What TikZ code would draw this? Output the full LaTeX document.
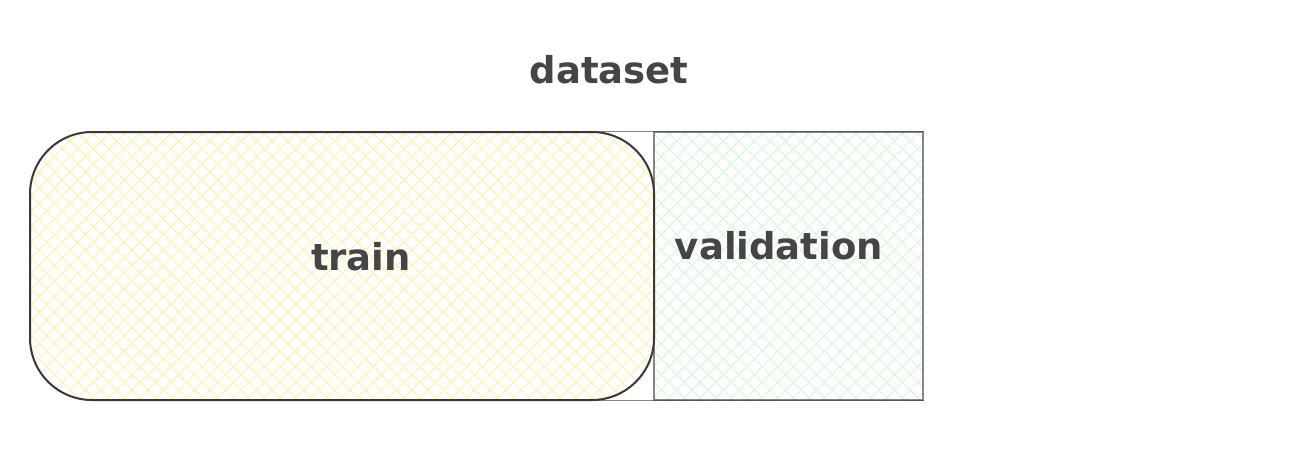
\documentclass[tikz,border=0pt]{standalone}
\usepackage{fontspec}
\setmainfont{DejaVu Sans}
\usetikzlibrary{patterns.meta}
\definecolor{ink}{HTML}{454545}
\definecolor{edge}{HTML}{383838}
\definecolor{yhatch}{HTML}{FFF1B8}
\definecolor{ghatch}{HTML}{C6F2CC}
\tikzset{
  lbl/.style={text=ink, font=\fontsize{37}{42}\selectfont\bfseries, inner sep=0pt, anchor=center},
  trainbox/.style={draw=edge, line width=2pt, rounded corners=62pt,
    pattern={Hatch[angle=45,distance=11pt,line width=1.2pt]}, pattern color=yhatch,
    minimum width=624pt, minimum height=268pt, inner sep=0pt},
  validbox/.style={draw=edge, draw opacity=0.6, line width=1.6pt,
    pattern={Hatch[angle=45,distance=11pt,line width=1.2pt]}, pattern color=ghatch,
    minimum width=269pt, minimum height=268pt, inner sep=0pt},
  frame/.style={draw=edge, draw opacity=0.6, line width=1.6pt}
}
\begin{document}
\begin{tikzpicture}[x=1pt,y=-1pt]
\useasboundingbox (0,0) rectangle (1296,460);
\fill[white] (0,0) rectangle (1296,460);
\node[validbox] (valid) at (788.5,266) {};
\node[trainbox] (train) at (342,266) {};
\draw[frame] (valid.north west) -- ++(-60,0);
\draw[frame] (valid.south west) -- ++(-60,0);
\draw[frame] (valid.north west) -- (valid.north east);
\draw[frame] (valid.south west) -- (valid.south east);
\node[lbl] (dataset) at (609,70) {dataset};
\node[lbl] (trainlbl) at (361,257) {train};
\node[lbl] (validlbl) at (779,246) {validation};
\end{tikzpicture}
\end{document}
